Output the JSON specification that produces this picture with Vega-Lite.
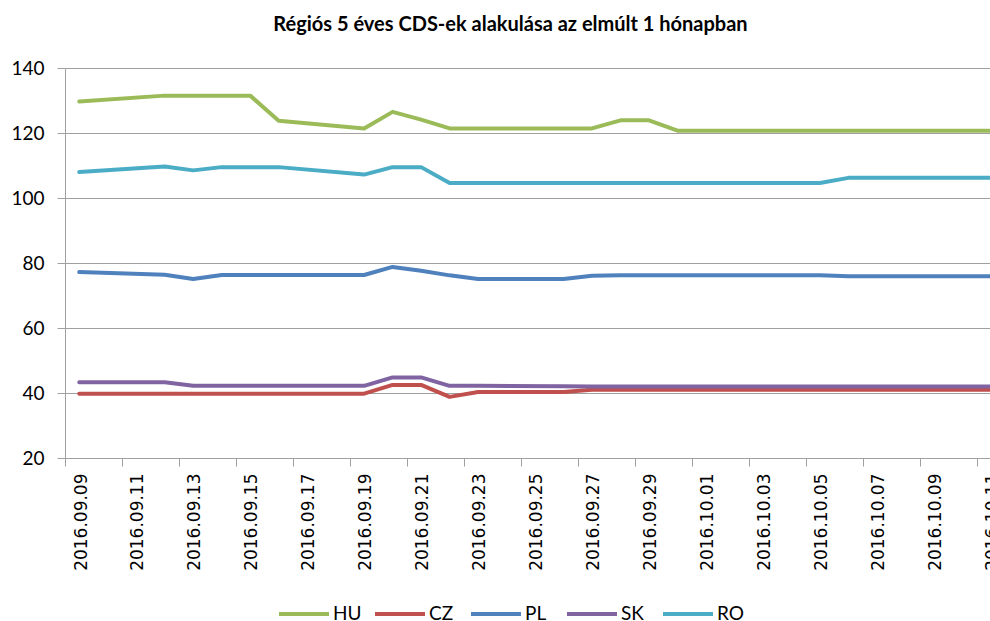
{
  "$schema": "https://vega.github.io/schema/vega-lite/v6.json",
  "autosize": {"type": "none"},
  "width": 925,
  "height": 390,
  "padding": {"left": 65, "top": 68, "right": 0, "bottom": 163},
  "background": "white",
  "title": {
    "text": "Régiós 5 éves CDS-ek alakulása az elmúlt 1 hónapban",
    "font": "Lato",
    "fontSize": 20,
    "fontWeight": "bold",
    "color": "#000000",
    "anchor": "middle",
    "dx": -17,
    "offset": 24
  },
  "config": {
    "view": {"stroke": null},
    "axis": {"domainColor": "#A0A0A0", "tickColor": "#A0A0A0", "gridColor": "#A0A0A0"}
  },
  "data": {
    "values": [
      {"date": "2016-09-09T12:00", "series": "HU", "value": 129.7},
      {"date": "2016-09-12T12:00", "series": "HU", "value": 131.5},
      {"date": "2016-09-13T12:00", "series": "HU", "value": 131.5},
      {"date": "2016-09-14T12:00", "series": "HU", "value": 131.5},
      {"date": "2016-09-15T12:00", "series": "HU", "value": 131.5},
      {"date": "2016-09-16T12:00", "series": "HU", "value": 123.8},
      {"date": "2016-09-19T12:00", "series": "HU", "value": 121.4},
      {"date": "2016-09-20T12:00", "series": "HU", "value": 126.5},
      {"date": "2016-09-21T12:00", "series": "HU", "value": 124.1},
      {"date": "2016-09-22T12:00", "series": "HU", "value": 121.4},
      {"date": "2016-09-23T12:00", "series": "HU", "value": 121.4},
      {"date": "2016-09-26T12:00", "series": "HU", "value": 121.4},
      {"date": "2016-09-27T12:00", "series": "HU", "value": 121.4},
      {"date": "2016-09-28T12:00", "series": "HU", "value": 123.9},
      {"date": "2016-09-29T12:00", "series": "HU", "value": 123.9},
      {"date": "2016-09-30T12:00", "series": "HU", "value": 120.7},
      {"date": "2016-10-03T12:00", "series": "HU", "value": 120.7},
      {"date": "2016-10-04T12:00", "series": "HU", "value": 120.7},
      {"date": "2016-10-05T12:00", "series": "HU", "value": 120.7},
      {"date": "2016-10-06T12:00", "series": "HU", "value": 120.7},
      {"date": "2016-10-07T12:00", "series": "HU", "value": 120.7},
      {"date": "2016-10-10T12:00", "series": "HU", "value": 120.7},
      {"date": "2016-10-11T12:00", "series": "HU", "value": 120.7},

      {"date": "2016-09-09T12:00", "series": "CZ", "value": 39.8},
      {"date": "2016-09-12T12:00", "series": "CZ", "value": 39.8},
      {"date": "2016-09-13T12:00", "series": "CZ", "value": 39.8},
      {"date": "2016-09-14T12:00", "series": "CZ", "value": 39.8},
      {"date": "2016-09-15T12:00", "series": "CZ", "value": 39.8},
      {"date": "2016-09-16T12:00", "series": "CZ", "value": 39.8},
      {"date": "2016-09-19T12:00", "series": "CZ", "value": 39.8},
      {"date": "2016-09-20T12:00", "series": "CZ", "value": 42.5},
      {"date": "2016-09-21T12:00", "series": "CZ", "value": 42.5},
      {"date": "2016-09-22T12:00", "series": "CZ", "value": 38.8},
      {"date": "2016-09-23T12:00", "series": "CZ", "value": 40.3},
      {"date": "2016-09-26T12:00", "series": "CZ", "value": 40.3},
      {"date": "2016-09-27T12:00", "series": "CZ", "value": 41.0},
      {"date": "2016-09-28T12:00", "series": "CZ", "value": 41.0},
      {"date": "2016-09-29T12:00", "series": "CZ", "value": 41.0},
      {"date": "2016-09-30T12:00", "series": "CZ", "value": 41.0},
      {"date": "2016-10-03T12:00", "series": "CZ", "value": 41.0},
      {"date": "2016-10-04T12:00", "series": "CZ", "value": 41.0},
      {"date": "2016-10-05T12:00", "series": "CZ", "value": 41.0},
      {"date": "2016-10-06T12:00", "series": "CZ", "value": 41.0},
      {"date": "2016-10-07T12:00", "series": "CZ", "value": 41.0},
      {"date": "2016-10-10T12:00", "series": "CZ", "value": 41.0},
      {"date": "2016-10-11T12:00", "series": "CZ", "value": 41.0},

      {"date": "2016-09-09T12:00", "series": "PL", "value": 77.2},
      {"date": "2016-09-12T12:00", "series": "PL", "value": 76.4},
      {"date": "2016-09-13T12:00", "series": "PL", "value": 75.1},
      {"date": "2016-09-14T12:00", "series": "PL", "value": 76.3},
      {"date": "2016-09-15T12:00", "series": "PL", "value": 76.3},
      {"date": "2016-09-16T12:00", "series": "PL", "value": 76.3},
      {"date": "2016-09-19T12:00", "series": "PL", "value": 76.3},
      {"date": "2016-09-20T12:00", "series": "PL", "value": 78.8},
      {"date": "2016-09-21T12:00", "series": "PL", "value": 77.6},
      {"date": "2016-09-22T12:00", "series": "PL", "value": 76.2},
      {"date": "2016-09-23T12:00", "series": "PL", "value": 75.1},
      {"date": "2016-09-26T12:00", "series": "PL", "value": 75.1},
      {"date": "2016-09-27T12:00", "series": "PL", "value": 76.1},
      {"date": "2016-09-28T12:00", "series": "PL", "value": 76.2},
      {"date": "2016-09-29T12:00", "series": "PL", "value": 76.2},
      {"date": "2016-09-30T12:00", "series": "PL", "value": 76.2},
      {"date": "2016-10-03T12:00", "series": "PL", "value": 76.2},
      {"date": "2016-10-04T12:00", "series": "PL", "value": 76.2},
      {"date": "2016-10-05T12:00", "series": "PL", "value": 76.2},
      {"date": "2016-10-06T12:00", "series": "PL", "value": 75.9},
      {"date": "2016-10-07T12:00", "series": "PL", "value": 75.9},
      {"date": "2016-10-10T12:00", "series": "PL", "value": 75.9},
      {"date": "2016-10-11T12:00", "series": "PL", "value": 75.9},

      {"date": "2016-09-09T12:00", "series": "SK", "value": 43.3},
      {"date": "2016-09-12T12:00", "series": "SK", "value": 43.3},
      {"date": "2016-09-13T12:00", "series": "SK", "value": 42.2},
      {"date": "2016-09-14T12:00", "series": "SK", "value": 42.2},
      {"date": "2016-09-15T12:00", "series": "SK", "value": 42.2},
      {"date": "2016-09-16T12:00", "series": "SK", "value": 42.2},
      {"date": "2016-09-19T12:00", "series": "SK", "value": 42.2},
      {"date": "2016-09-20T12:00", "series": "SK", "value": 44.8},
      {"date": "2016-09-21T12:00", "series": "SK", "value": 44.8},
      {"date": "2016-09-22T12:00", "series": "SK", "value": 42.2},
      {"date": "2016-09-23T12:00", "series": "SK", "value": 42.2},
      {"date": "2016-09-26T12:00", "series": "SK", "value": 42.1},
      {"date": "2016-09-27T12:00", "series": "SK", "value": 42.0},
      {"date": "2016-09-28T12:00", "series": "SK", "value": 42.0},
      {"date": "2016-09-29T12:00", "series": "SK", "value": 42.0},
      {"date": "2016-09-30T12:00", "series": "SK", "value": 42.0},
      {"date": "2016-10-03T12:00", "series": "SK", "value": 42.0},
      {"date": "2016-10-04T12:00", "series": "SK", "value": 42.0},
      {"date": "2016-10-05T12:00", "series": "SK", "value": 42.0},
      {"date": "2016-10-06T12:00", "series": "SK", "value": 42.0},
      {"date": "2016-10-07T12:00", "series": "SK", "value": 42.0},
      {"date": "2016-10-10T12:00", "series": "SK", "value": 42.0},
      {"date": "2016-10-11T12:00", "series": "SK", "value": 42.0},

      {"date": "2016-09-09T12:00", "series": "RO", "value": 108.0},
      {"date": "2016-09-12T12:00", "series": "RO", "value": 109.7},
      {"date": "2016-09-13T12:00", "series": "RO", "value": 108.5},
      {"date": "2016-09-14T12:00", "series": "RO", "value": 109.5},
      {"date": "2016-09-15T12:00", "series": "RO", "value": 109.5},
      {"date": "2016-09-16T12:00", "series": "RO", "value": 109.5},
      {"date": "2016-09-19T12:00", "series": "RO", "value": 107.2},
      {"date": "2016-09-20T12:00", "series": "RO", "value": 109.5},
      {"date": "2016-09-21T12:00", "series": "RO", "value": 109.5},
      {"date": "2016-09-22T12:00", "series": "RO", "value": 104.6},
      {"date": "2016-09-23T12:00", "series": "RO", "value": 104.6},
      {"date": "2016-09-26T12:00", "series": "RO", "value": 104.6},
      {"date": "2016-09-27T12:00", "series": "RO", "value": 104.6},
      {"date": "2016-09-28T12:00", "series": "RO", "value": 104.6},
      {"date": "2016-09-29T12:00", "series": "RO", "value": 104.6},
      {"date": "2016-09-30T12:00", "series": "RO", "value": 104.6},
      {"date": "2016-10-03T12:00", "series": "RO", "value": 104.6},
      {"date": "2016-10-04T12:00", "series": "RO", "value": 104.6},
      {"date": "2016-10-05T12:00", "series": "RO", "value": 104.6},
      {"date": "2016-10-06T12:00", "series": "RO", "value": 106.2},
      {"date": "2016-10-07T12:00", "series": "RO", "value": 106.2},
      {"date": "2016-10-10T12:00", "series": "RO", "value": 106.2},
      {"date": "2016-10-11T12:00", "series": "RO", "value": 106.2}
    ]
  },
  "mark": {"type": "line", "strokeWidth": 4, "strokeCap": "round", "strokeJoin": "round", "clip": true},
  "encoding": {
    "x": {
      "field": "date",
      "type": "temporal",
      "scale": {
        "domain": [
          {"year": 2016, "month": 9, "date": 9, "hours": 0},
          {"year": 2016, "month": 10, "date": 11, "hours": 11, "minutes": 17}
        ],
        "nice": false
      },
      "axis": {
        "title": null,
        "format": "%Y.%m.%d",
        "tickCount": {"interval": "day", "step": 2},
        "labelAngle": -90,
        "labelFont": "DejaVu Sans",
        "labelFontSize": 17,
        "labelColor": "#000000",
        "labelPadding": 7,
        "labelOffset": 16,
        "labelOverlap": false,
        "labelFlush": false,
        "tickSize": 8,
        "grid": false
      }
    },
    "y": {
      "field": "value",
      "type": "quantitative",
      "scale": {"domain": [20, 140], "nice": false, "zero": false},
      "axis": {
        "title": null,
        "values": [20, 40, 60, 80, 100, 120, 140],
        "labelFont": "Lato",
        "labelFontSize": 19,
        "labelColor": "#000000",
        "labelPadding": 13,
        "tickSize": 8,
        "grid": true
      }
    },
    "color": {
      "field": "series",
      "type": "nominal",
      "scale": {
        "domain": ["HU", "CZ", "PL", "SK", "RO"],
        "range": ["#9BBB59", "#C0504D", "#4F81BD", "#8064A2", "#4BACC6"]
      },
      "legend": {
        "title": null,
        "orient": "none",
        "direction": "horizontal",
        "legendX": 212,
        "legendY": 519,
        "padding": 0,
        "symbolType": "stroke",
        "symbolSize": 2500,
        "symbolStrokeWidth": 4,
        "labelFont": "Lato",
        "labelFontSize": 19,
        "labelColor": "#000000",
        "labelOffset": 2,
        "gridAlign": "all",
        "columnPadding": 5
      }
    }
  }
}
